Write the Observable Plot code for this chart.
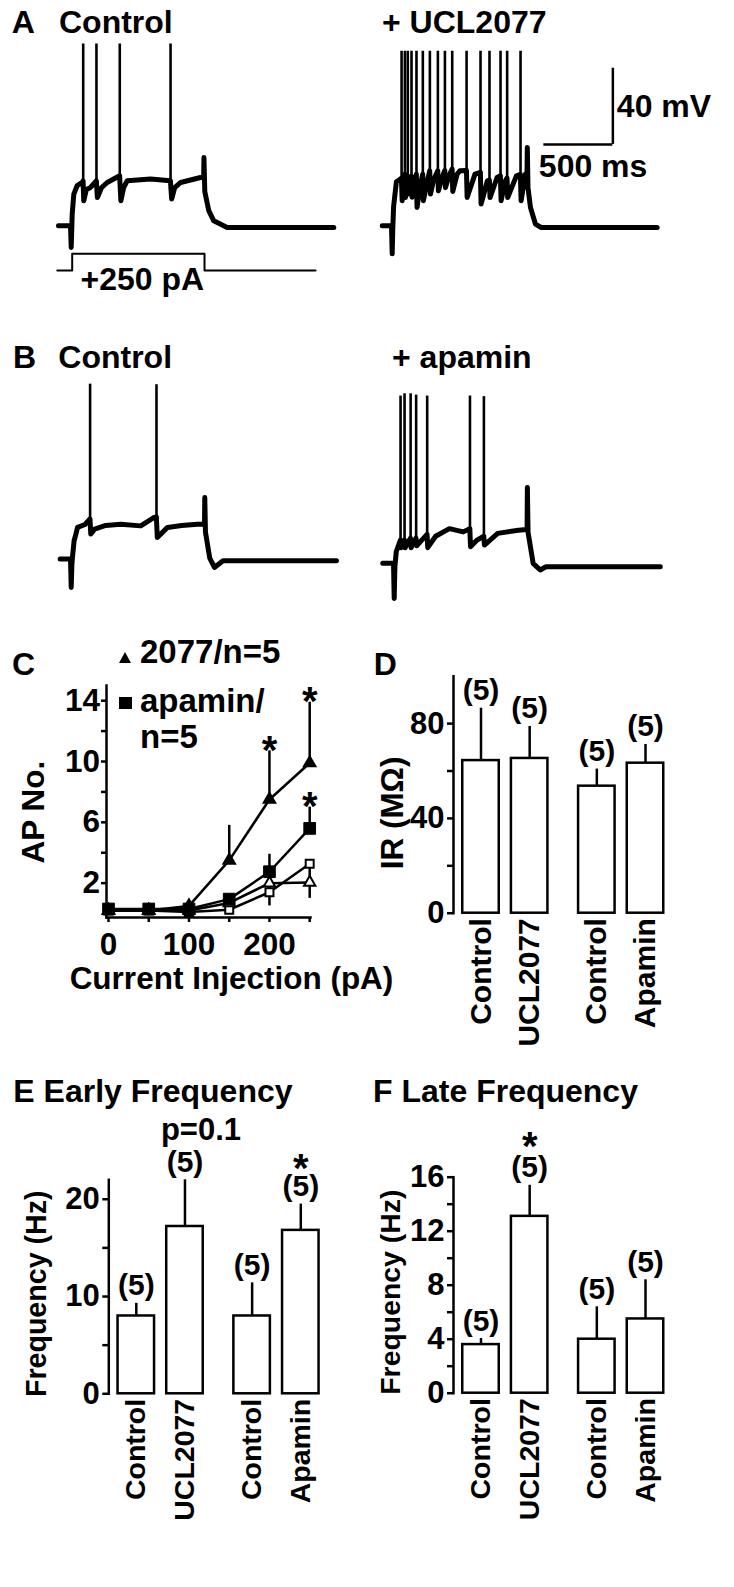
<!DOCTYPE html>
<html><head><meta charset="utf-8">
<script src="https://cdn.jsdelivr.net/npm/d3@7"></script>
<script src="https://cdn.jsdelivr.net/npm/@observablehq/plot@0.6"></script>
<style>
html,body{margin:0;padding:0;background:#fff;}
body{width:734px;height:1587px;position:relative;overflow:hidden;font-family:"Liberation Sans",Arial,sans-serif;font-weight:bold;color:#000;}
.abs{position:absolute;}
.t{position:absolute;white-space:nowrap;line-height:1;}
</style></head><body>
<script>
// ---------------- DATA ----------------
// Panel A/B traces: key points (time ms from step onset, membrane potential mV)
const aCtrlT = [-92, -5, 0, 4, 7, 19, 43, 80, 86, 91, 110, 140, 182, 190, 220, 261, 351, 360, 380, 406, 575, 719, 728, 750, 793, 937, 960, 962, 968, 997, 1033, 1130, 1903];
const aCtrlV = [-60, -60, -71.4, -62, -54, -43.4, -39, -37.3, -36.5, -46.9, -41, -39.9, -36.4, -45.2, -40, -37.3, -33.8, -46.9, -40, -36.4, -35.5, -36.4, -46, -40, -37.3, -34.7, -34.7, -24.2, -42, -52.1, -57.4, -60.9, -60.9];
const aCtrlSpikeT = [87, 183, 352, 720];
const aCtrlSpikeBase = [-36.5, -36.4, -33.8, -36.4];
const aCtrlSpikePeak = [35.3, 35.3, 35.3, 35.3];

const aUclT = [-72, -5, 0, 4, 10, 30, 50, 67, 72, 91, 96, 112, 117, 139, 144, 175, 180, 200, 221, 226, 250, 272, 277, 300, 330, 335, 360, 381, 386, 410, 434, 439, 470, 490, 538, 543, 600, 639, 644, 690, 704, 709, 760, 784, 789, 820, 832, 837, 900, 929, 934, 965, 977, 979, 984, 1002, 1038, 1080, 1920];
const aUclV = [-60, -60, -74.7, -62, -50, -37, -36, -35, -46.9, -33, -45.2, -34, -43.4, -34, -45, -33, -50.4, -40, -33, -46.9, -38, -31.2, -43.4, -36, -31.2, -41.7, -35, -31, -40, -34, -30.3, -42, -33, -31.2, -31, -45.2, -32.9, -32, -48.6, -36.4, -36, -45.2, -34.7, -33.8, -46.9, -36.4, -35, -45.2, -33.8, -33, -46.9, -32.9, -32.9, -19, -40, -50.4, -59.1, -60.9, -60.9];
const aUclSpikeT = [68, 92, 113, 140, 176, 222, 273, 331, 382, 435, 539, 640, 705, 785, 833, 930];
const aUclSpikeBase = [-35, -33, -34, -34, -33, -33, -31.2, -31.2, -31, -30.3, -31, -32, -36, -33.8, -35, -33];
const aUclSpikePeak = [31.5, 31.5, 31.5, 31.5, 31.5, 31.5, 31.5, 31.5, 31.5, 31.5, 31.5, 31.5, 31.5, 31.5, 31.5, 31.5];

const bCtrlT = [-80, -5, 0, 5, 9, 21, 34, 46, 100, 136, 142, 170, 250, 359, 504, 601, 617, 624, 698, 800, 915, 966, 968, 973, 1004, 1038, 1100, 1922];
const bCtrlV = [-59.1, -59.1, -74, -62, -58.3, -49.5, -46, -42.5, -41, -38.1, -46, -43.4, -41.5, -40.8, -41.7, -37.3, -37, -47.8, -42.5, -41.5, -40.8, -40.8, -26.8, -45, -58.6, -63.5, -60, -60];
const bCtrlSpikeT = [137, 618];
const bCtrlSpikeBase = [-38.1, -37];
const bCtrlSpikePeak = [32.6, 32.3];

const bApaT = [-83, -5, 0, 5, 15, 30, 45, 50, 74, 79, 118, 123, 158, 163, 200, 238, 243, 300, 400, 500, 548, 553, 600, 649, 654, 750, 900, 963, 965, 970, 1007, 1058, 1100, 1928];
const bApaV = [-58.2, -58.2, -76.6, -60, -52, -49, -46, -50, -46, -50, -45, -50, -45, -49, -46, -43, -50, -44, -40, -41.7, -40, -49.5, -46, -44, -48.6, -42.5, -40.8, -40.5, -18.4, -42, -58.2, -61.7, -60, -60];
const bApaSpikeT = [46, 75, 119, 159, 239, 549, 650];
const bApaSpikeBase = [-46, -46, -45, -45, -43, -40, -44];
const bApaSpikePeak = [29.5, 30.7, 30.7, 30, 29.5, 29.5, 29.2];

// current step protocol (ms, pA)
const stepT = [-101, 7, 7, 966, 966, 1771];
const stepPA = [0, 0, 250, 250, 0, 0];
const stepAmp = 250;

// scale bar (corner in ms / mV, sizes)
const scaleBar = {t: 1599, v: -17.4, ms: 500, mv: 40};

// Panel C: AP number vs current injection
const currentsPA = [0, 50, 100, 150, 200, 250];
const uclMean = [0.2, 0.2, 0.5, 3.5, 7.5, 9.9];
const uclSem = [0, 0, 0, 2.3, 3.2, 4.0];
const uclCtlMean = [0.2, 0.2, 0.2, 0.7, 2.0, 2.05];
const uclCtlSem = [0, 0, 0, 0, 0, 1.05];
const apaMean = [0.3, 0.3, 0.3, 0.95, 2.75, 5.6];
const apaSem = [0, 0, 0, 0.2, 1.15, 1.4];
const apaCtlMean = [0.2, 0.2, 0.1, 0.25, 1.4, 3.27];
const apaCtlSem = [0, 0, 0, 0, 0.9, 0];
const uclStars = ["", "", "", "", "*", "*"];
const apaStars = ["", "", "", "", "", "*"];

// Panels D-F: bar charts
const barLabels = ["Control", "UCL2077", "Control", "Apamin"];
const barGroup = ["UCL2077", "UCL2077", "Apamin", "Apamin"];
const barRole = ["control", "drug", "control", "drug"];
const nCells = [5, 5, 5, 5];
const irMean = [64.4, 65.3, 53.6, 63.3];
const irSem = [22.1, 13.5, 7.2, 7.9];
const earlyMean = [8.0, 17.2, 8.0, 16.8];
const earlySem = [1.3, 4.8, 3.4, 2.7];
const earlyStars = ["", "", "", "*"];
const earlyNotes = ["", "p=0.1", "", ""];
const lateMean = [3.6, 13.1, 4.0, 5.5];
const lateSem = [0.45, 2.3, 2.4, 2.9];
const lateStars = ["", "*", "", ""];
const noNotes = ["", "", "", ""];
const noStars = ["", "", "", ""];

// ---------------- RENDER ----------------
const FONT = "'Liberation Sans', Arial, sans-serif";
const baseStyle = {fontFamily: FONT, fontSize: "31px", fontWeight: "bold", color: "black", background: "none", overflow: "visible", maxWidth: "none"};

function place(node, left, top) {
  const d = document.createElement("div");
  d.className = "abs";
  d.style.left = left + "px";
  d.style.top = top + "px";
  d.appendChild(node);
  document.body.appendChild(d);
}
function addText(txt, x, baseline, fs) {
  const d = document.createElement("div");
  d.className = "t";
  d.textContent = txt;
  d.style.left = x + "px";
  d.style.top = (baseline - 0.8465 * fs) + "px";
  d.style.fontSize = fs + "px";
  document.body.appendChild(d);
}
function addShape(markup, left, top) {
  const d = document.createElement("div");
  d.className = "abs";
  d.style.left = left + "px";
  d.style.top = top + "px";
  d.innerHTML = markup;
  document.body.appendChild(d);
}

const PX_PER_MS = 0.138, PX_PER_MV = 1.9075;
const T_MIN = -150, V_MIN = -100, V_MAX = 45, V_REST = -60;

function tracePlot(T, V, spT, spBase, spPeak, tMax, extra = []) {
  const pts = T.map((t, i) => ({t, v: V[i]}));
  const spikes = spT.map((t, i) => ({t, base: spBase[i], peak: spPeak[i]}));
  return Plot.plot({
    width: (tMax - T_MIN) * PX_PER_MS,
    height: (V_MAX - V_MIN) * PX_PER_MV,
    margin: 0,
    x: {domain: [T_MIN, tMax], axis: null},
    y: {domain: [V_MIN, V_MAX], axis: null},
    style: {...baseStyle, fontSize: "32px"},
    marks: [
      Plot.line(pts, {x: "t", y: "v", stroke: "black", strokeWidth: 5, strokeLinejoin: "round", strokeLinecap: "round"}),
      Plot.ruleX(spikes, {x: "t", y1: "base", y2: "peak", stroke: "black", strokeWidth: 2.6}),
      ...extra
    ]
  });
}
function placeTrace(plot, onsetX, baselineY) {
  place(plot, onsetX + T_MIN * PX_PER_MS, baselineY - (V_MAX - V_REST) * PX_PER_MV);
}

// A control
placeTrace(tracePlot(aCtrlT, aCtrlV, aCtrlSpikeT, aCtrlSpikeBase, aCtrlSpikePeak, 2050), 70.7, 225);
// A UCL2077 + scale bar
placeTrace(tracePlot(aUclT, aUclV, aUclSpikeT, aUclSpikeBase, aUclSpikePeak, 2400, [
  Plot.ruleY([scaleBar], {y: "v", x1: d => d.t - d.ms, x2: "t", stroke: "black", strokeWidth: 2.5}),
  Plot.ruleX([scaleBar], {x: "t", y1: "v", y2: d => d.v + d.mv, stroke: "black", strokeWidth: 2.5}),
  Plot.text([scaleBar], {x: "t", y: d => d.v + d.mv / 2, text: d => `${d.mv} mV`, textAnchor: "start", lineAnchor: "middle", dx: 4}),
  Plot.text([scaleBar], {x: d => d.t - d.ms, y: "v", text: d => `${d.ms} ms`, textAnchor: "start", lineAnchor: "top", dx: -5, dy: 10})
]), 392, 225);
// B traces
placeTrace(tracePlot(bCtrlT, bCtrlV, bCtrlSpikeT, bCtrlSpikeBase, bCtrlSpikePeak, 2050), 70.4, 560);
placeTrace(tracePlot(bApaT, bApaV, bApaSpikeT, bApaSpikeBase, bApaSpikePeak, 2050), 394, 566.7);

// current step
{
  const pts = stepT.map((t, i) => ({t, i: stepPA[i]}));
  const p = Plot.plot({
    width: (2050 - T_MIN) * PX_PER_MS, height: 60, margin: 0,
    x: {domain: [T_MIN, 2050], axis: null},
    y: {domain: [-449, 449], axis: null},
    style: {...baseStyle, fontSize: "32px"},
    marks: [
      Plot.line(pts, {x: "t", y: "i", stroke: "black", strokeWidth: 2}),
      Plot.text([{t0: stepT[2], t1: stepT[3], a: stepAmp}], {x: d => (d.t0 + d.t1) / 2, y: "a", text: d => `+${d.a} pA`, lineAnchor: "top", dy: 13.4, dx: 4})
    ]
  });
  place(p, 70.7 + T_MIN * PX_PER_MS, 240);
}

// Panel C
{
  const mk = (mean, sem, stars) => currentsPA.map((x, i) => ({x, y: mean[i], sem: sem[i], star: stars ? stars[i] : ""}));
  const ucl = mk(uclMean, uclSem, uclStars);
  const uclCtl = mk(uclCtlMean, uclCtlSem);
  const apa = mk(apaMean, apaSem, apaStars);
  const apaCtl = mk(apaCtlMean, apaCtlSem);
  const lineOpt = {x: "x", y: "y", stroke: "black", strokeWidth: 2.5};
  const p = Plot.plot({
    width: 367, height: 370, marginLeft: 106, marginRight: 57, marginTop: 55, marginBottom: 83,
    x: {domain: [-2.5, 251]},
    y: {domain: [-0.26, 15]},
    style: {...baseStyle, fontSize: "31.5px"},
    marks: [
      Plot.frame({anchor: "left", strokeWidth: 2.5}),
      Plot.frame({anchor: "bottom", strokeWidth: 2.5}),
      Plot.axisY({ticks: [2, 6, 10, 14], tickSize: 5, tickPadding: 1.5, strokeWidth: 2.5, label: null}),
      Plot.axisY({ticks: [4, 8, 12], tickSize: 5, strokeWidth: 2.5, tickFormat: () => "", label: null}),
      Plot.axisX({ticks: [0, 100, 200], tickSize: 5, tickPadding: 10, strokeWidth: 2.5, label: null}),
      Plot.axisX({ticks: [50, 150, 250], tickSize: 5, strokeWidth: 2.5, tickFormat: () => "", label: null}),
      Plot.line(apaCtl, lineOpt), Plot.line(uclCtl, lineOpt), Plot.line(apa, lineOpt), Plot.line(ucl, lineOpt),
      Plot.ruleX(apaCtl.filter(d => d.sem), {x: "x", y1: d => d.y - d.sem, y2: d => d.y + d.sem, strokeWidth: 2.5}),
      Plot.ruleX(uclCtl.filter(d => d.sem), {x: "x", y1: d => d.y - d.sem, y2: d => d.y + d.sem, strokeWidth: 2.5}),
      Plot.ruleX(apa.filter(d => d.sem), {x: "x", y1: "y", y2: d => d.y + d.sem, strokeWidth: 2.5}),
      Plot.ruleX(ucl.filter(d => d.sem), {x: "x", y1: "y", y2: d => d.y + d.sem, strokeWidth: 2.5}),
      Plot.dot(apaCtl, {x: "x", y: "y", symbol: "square", r: 4.5, fill: "white", stroke: "black", strokeWidth: 2}),
      Plot.dot(uclCtl, {x: "x", y: "y", symbol: "triangle", r: 4.2, fill: "white", stroke: "black", strokeWidth: 2}),
      Plot.dot(apa, {x: "x", y: "y", symbol: "square", r: 6.6, fill: "black", stroke: "black", strokeWidth: 1}),
      Plot.dot(ucl, {x: "x", y: "y", symbol: "triangle", r: 4.6, fill: "black", stroke: "black", strokeWidth: 1.5}),
      Plot.text([...ucl, ...apa].filter(d => d.star), {x: "x", y: d => d.y + d.sem, text: "star", fontSize: 40, lineAnchor: "middle"}),
      Plot.text(["Current Injection (pA)"], {text: d => d, frameAnchor: "bottom", textAnchor: "middle", lineAnchor: "top", dx: 23, dy: 48.9}),
      Plot.text(["AP No."], {text: d => d, frameAnchor: "left", textAnchor: "middle", rotate: -90, dx: -73, dy: 10.7})
    ]
  });
  place(p, 0, 630);
}

// Bar panels
function barPanel(o) {
  const rows = barLabels.map((label, i) => ({label, group: barGroup[i], role: barRole[i], mean: o.mean[i], sem: o.sem[i], n: `(${nCells[i]})`, star: o.stars[i], note: o.notes[i]}));
  const top = d => d.mean + d.sem;
  return Plot.plot({
    width: 367, height: o.height, marginLeft: o.ml, marginRight: 367 - o.ml - 219.5, marginTop: o.mt, marginBottom: o.mb,
    fx: {domain: ["UCL2077", "Apamin"], paddingInner: 0.105, paddingOuter: 0, round: false, axis: null, label: null},
    x: {domain: ["control", "drug"], paddingInner: 0.25, paddingOuter: 0.19, round: false, axis: null},
    y: {domain: [0, o.yMax]},
    style: {...baseStyle, fontSize: "31px"},
    marks: [
      Plot.axisY({ticks: o.ticks, tickSize: 6, tickPadding: 3, strokeWidth: 2.5, label: null, facetAnchor: "left"}),
      Plot.axisY({ticks: o.minor, tickSize: 6, strokeWidth: 2.5, tickFormat: () => "", label: null, facetAnchor: "left"}),
      Plot.frame({anchor: "left", facetAnchor: "left", strokeWidth: 2.5}),
      Plot.ruleX(rows, {fx: "group", x: "role", y1: "mean", y2: top, strokeWidth: 2.5}),
      Plot.barY(rows, {fx: "group", x: "role", y: "mean", fill: "white", stroke: "black", strokeWidth: 2.5}),
      Plot.text(rows, {fx: "group", x: "role", y: top, text: "n", lineAnchor: "bottom", dy: -8, fontSize: 30}),
      Plot.text(rows, {fx: "group", x: "role", y: top, text: "star", lineAnchor: "middle", dy: o.starDy, fontSize: 40}),
      Plot.text(rows, {fx: "group", x: "role", y: top, text: "note", lineAnchor: "bottom", dy: -40, dx: 16, fontSize: 31}),
      Plot.text(rows, {fx: "group", x: "role", text: "label", frameAnchor: "bottom", rotate: -90, textAnchor: "end", lineAnchor: "middle", dy: 5, fontSize: o.catFont}),
      Plot.text([o.ylabel], {text: d => d, frameAnchor: "left", textAnchor: "middle", rotate: -90, dx: o.ldx, dy: o.ldy, fontSize: o.labelFont, facetAnchor: "left"})
    ]
  });
}

place(barPanel({mean: irMean, sem: irSem, stars: noStars, notes: noNotes, height: 400, ml: 86, mt: 35.7, mb: 127.3,
  yMax: 100, ticks: [0, 40, 80], minor: [20, 60], starDy: 0, catFont: 30, ylabel: "IR (MΩ)", ldx: -61, ldy: 18.3, labelFont: 31.5}), 367, 640);
place(barPanel({mean: earlyMean, sem: earlySem, stars: earlyStars, notes: earlyNotes, height: 477, ml: 108.3, mt: 69.3, mb: 193.7,
  yMax: 22, ticks: [0, 10, 20], minor: [5, 15], starDy: -35, catFont: 28.5, ylabel: "Frequency (Hz)", ldx: -71.6, ldy: 7, labelFont: 28.6}), 0, 1110);
place(barPanel({mean: lateMean, sem: lateSem, stars: lateStars, notes: noNotes, height: 477, ml: 86, mt: 66.7, mb: 194.3,
  yMax: 16, ticks: [0, 4, 8, 12, 16], minor: [2, 6, 10, 14], starDy: -38.5, catFont: 28.5, ylabel: "Frequency (Hz)", ldx: -62.7, ldy: 7, labelFont: 28.4}), 367, 1110);

// Titles and legend text
addText("A", 11.7, 33.3, 32);
addText("Control", 59, 33.3, 32);
addText("+ UCL2077", 382, 33.3, 32);
addText("B", 13, 368.3, 32);
addText("Control", 58.3, 368.3, 32);
addText("+ apamin", 392, 368.3, 32);
addText("C", 12, 675, 32);
addText("D", 373.7, 675, 32);
addText("E Early Frequency", 13.3, 1102.5, 32);
addText("F Late Frequency", 373, 1102.5, 32);
addText("2077/n=5", 140, 663, 33);
addText("apamin/", 140, 711.7, 33);
addText("n=5", 140, 748, 33);
addShape('<svg width="12" height="11" style="display:block"><polygon points="6,0 12,11 0,11" fill="black"/></svg>', 119, 651.5);
addShape('<svg width="13" height="12" style="display:block"><rect width="13" height="12" fill="black"/></svg>', 118.5, 697);
</script>
</body></html>
